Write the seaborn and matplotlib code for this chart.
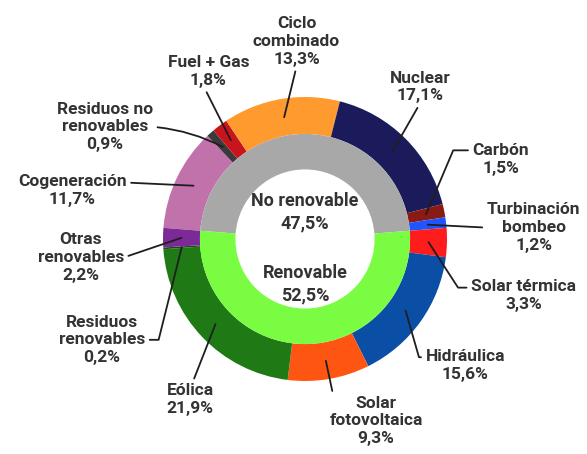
import matplotlib
matplotlib.use("Agg")
import matplotlib.pyplot as plt
import seaborn as sns
import numpy as np

# --- datos ---
fuentes = ['Cogeneración', 'Residuos no\nrenovables', 'Fuel + Gas', 'Ciclo\ncombinado',
           'Nuclear', 'Carbón', 'Turbinación\nbombeo', 'Solar térmica', 'Hidráulica',
           'Solar\nfotovoltaica', 'Eólica', 'Residuos\nrenovables', 'Otras\nrenovables']
porcentajes = [11.7, 0.9, 1.8, 13.3, 17.1, 1.5, 1.2, 3.3, 15.6, 9.3, 21.9, 0.2, 2.2]
colores = ['#c272ab', '#3a3a3a', '#c8141c', '#ff9a2e', '#1b1b5c', '#8a1a14', '#1f55ff',
           '#ff1c1c', '#0b4ea6', '#ff5512', '#1f7a16', '#1c4d12', '#7b2a98']

grupos = ['No renovable', 'Renovable']
porcentajes_grupo = [47.5, 52.5]
colores_grupo = ['#a8a8a8', '#7afc42']

# posiciones de las etiquetas (x, y, relpos, estilo de conexión)
etiquetas = {
    'Cogeneración': (-1.64, 0.34, (1.0, 0.75), 'arc3'),
    'Residuos no\nrenovables': (-1.41, 0.79, (1.0, 0.5), 'arc3,rad=-0.1'),
    'Fuel + Gas': (-0.68, 1.18, (0.45, 0.0), 'arc3'),
    'Ciclo\ncombinado': (-0.06, 1.39, (0.5, 0.0), 'arc3'),
    'Nuclear': (0.81, 1.07, (0.5, 0.0), 'arc3'),
    'Carbón': (1.38, 0.56, (0.0, 0.78), 'angle,angleA=180,angleB=67,rad=0'),
    'Turbinación\nbombeo': (1.61, 0.08, (0.0, 0.5), 'arc3'),
    'Solar térmica': (1.54, -0.40, (0.0, 0.75), 'angle,angleA=180,angleB=-57,rad=0'),
    'Hidráulica': (1.13, -0.89, (0.0, 0.75), 'angle,angleA=180,angleB=-74,rad=0'),
    'Solar\nfotovoltaica': (0.50, -1.28, (0.0, 0.5), 'angle,angleA=180,angleB=-78,rad=0'),
    'Eólica': (-0.81, -1.13, (0.55, 1.0), 'arc3'),
    'Residuos\nrenovables': (-1.43, -0.71, (1.0, 0.5), 'angle,angleA=0,angleB=76,rad=0'),
    'Otras\nrenovables': (-1.58, -0.13, (1.0, 0.5), 'arc3'),
}

sns.set_theme(style='white')
plt.rcParams['font.family'] = ['Roboto', 'DejaVu Sans']

fig = plt.figure(figsize=(5.87, 4.54), dpi=100)
ax = fig.add_axes([0, 0, 1, 1])

inicio = 90 + porcentajes_grupo[0] * 1.8

wedges, _ = ax.pie(porcentajes, colors=colores, radius=1.0, startangle=inicio,
                   counterclock=False, wedgeprops=dict(width=0.26, linewidth=0))
ax.pie(porcentajes_grupo, colors=colores_grupo, radius=0.74, startangle=inicio,
       counterclock=False, wedgeprops=dict(width=0.25, linewidth=0))

color_texto = '#333333'
fmt = lambda v: f"{v:.1f}".replace('.', ',') + '%'

for w, nombre, valor in zip(wedges, fuentes, porcentajes):
    ang = np.deg2rad((w.theta1 + w.theta2) / 2)
    punto = (0.87 * np.cos(ang), 0.87 * np.sin(ang))
    x, y, rel, cs = etiquetas[nombre]
    ax.annotate(f"{nombre}\n{fmt(valor)}", xy=punto, xytext=(x, y), ha='center', va='center',
                fontsize=12.5, fontweight='bold', color=color_texto, linespacing=1.22,
                arrowprops=dict(arrowstyle='-', color='#1e1e1e', lw=1.3,
                                connectionstyle=cs, relpos=rel, shrinkA=1, shrinkB=0))

ax.text(0, 0.19, f"{grupos[0]}\n{fmt(porcentajes_grupo[0])}", ha='center', va='center',
        fontsize=13, fontweight='bold', color=color_texto, linespacing=1.3)
ax.text(0, -0.32, f"{grupos[1]}\n{fmt(porcentajes_grupo[1])}", ha='center', va='center',
        fontsize=13, fontweight='bold', color=color_texto, linespacing=1.3)

ax.set_xlim(-305 / 142, (587 - 305) / 142)
ax.set_ylim(-(454 - 239) / 142, 239 / 142)
ax.set_aspect('equal')
ax.axis('off')

fig.savefig('out.png', dpi=100, facecolor='white')
